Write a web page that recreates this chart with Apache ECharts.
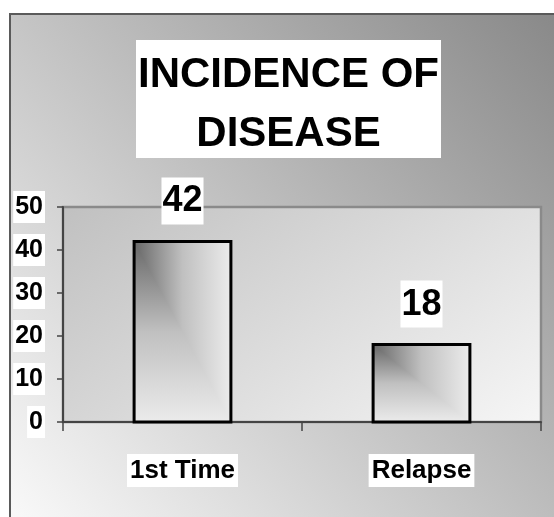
<!DOCTYPE html>
<html>
<head>
<meta charset="utf-8">
<script src="https://cdn.jsdelivr.net/npm/echarts@6/dist/echarts.min.js"></script>
<style>
  html, body { margin: 0; padding: 0; background: #ffffff; }
  #chart { width: 554px; height: 517px; }
</style>
</head>
<body>
<div id="chart"></div>
<script>
// Chart data
const titleLines = ['INCIDENCE OF', 'DISEASE'];
const categories = ['1st Time', 'Relapse'];
const incidence = [42, 18];
const yTicks = [0, 10, 20, 30, 40, 50];

const FONT = '"Liberation Sans", Arial, sans-serif';
const chart = echarts.init(document.getElementById('chart'), null, { renderer: 'canvas' });

// "From corner" shading: vertical ramp over the whole bar, horizontal ramp
// over the upper-right triangle, giving L-shaped contours from the top-left.
const stops = [
  { offset: 0, color: '#676767' },
  { offset: 0.5, color: '#c0c0c0' },
  { offset: 1, color: '#ebebeb' }
];

function renderBar(params, api) {
  const idx = api.value(0);
  const v = api.value(1);
  const top = api.coord([idx, v]);
  const base = api.coord([idx, 0]);
  const band = api.size([1, 0])[0];
  const w = band * 0.405;
  const l = top[0] - w / 2, r = l + w, t = top[1], b = base[1];
  return {
    type: 'group',
    children: [
      {
        type: 'rect',
        shape: { x: l, y: t, width: w, height: b - t },
        style: { fill: new echarts.graphic.LinearGradient(0, 0, 0, 1, stops) }
      },
      {
        type: 'polygon',
        shape: { points: [[l, t], [r, t], [r, b]] },
        style: { fill: new echarts.graphic.LinearGradient(0, 0, 1, 0, stops) }
      },
      {
        type: 'rect',
        shape: { x: l, y: t, width: w, height: b - t },
        style: { fill: null, stroke: '#000000', lineWidth: 3 }
      },
      {
        type: 'text',
        x: top[0],
        y: t - 17,
        style: {
          text: String(v),
          font: 'bold 36px ' + FONT,
          fill: '#000000',
          align: 'center',
          verticalAlign: 'bottom',
          backgroundColor: '#ffffff',
          padding: [6, 1, 5, 1]
        }
      }
    ]
  };
}

chart.setOption({
  animation: false,
  backgroundColor: '#ffffff',
  graphic: {
    elements: [
      {
        // slide panel with diagonal grey wash
        type: 'rect',
        z: -100,
        shape: { x: 10, y: 14, width: 570, height: 530 },
        style: {
          fill: new echarts.graphic.LinearGradient(0, 1, 1, 0, [
            { offset: 0, color: '#fcfcfc' },
            { offset: 1, color: '#868686' }
          ]),
          stroke: '#5a5a5a',
          lineWidth: 2
        }
      },
      {
        // title block
        type: 'rect',
        z: 10,
        shape: { x: 136, y: 40, width: 305, height: 118 },
        style: { fill: '#ffffff' }
      },
      {
        type: 'text',
        z: 11,
        x: 288.5,
        y: 75,
        style: {
          text: titleLines[0],
          font: 'bold 42px ' + FONT,
          fill: '#000000',
          align: 'center',
          verticalAlign: 'middle'
        }
      },
      {
        type: 'text',
        z: 11,
        x: 288.5,
        y: 134,
        style: {
          text: titleLines[1],
          font: 'bold 42px ' + FONT,
          fill: '#000000',
          align: 'center',
          verticalAlign: 'middle'
        }
      }
    ]
  },
  grid: {
    left: 63,
    right: 13,
    top: 207,
    bottom: 95,
    show: true,
    backgroundColor: new echarts.graphic.LinearGradient(0, 0, 0.54, 1.72, [
      { offset: 0, color: '#c0c0c0' },
      { offset: 1, color: '#f6f6f6' }
    ]),
    borderColor: '#8a8a8a',
    borderWidth: 2.5
  },
  xAxis: {
    type: 'category',
    data: categories,
    boundaryGap: true,
    axisLine: { lineStyle: { color: '#444444', width: 2 } },
    axisTick: { show: true, alignWithLabel: false, length: 9, lineStyle: { color: '#444444', width: 1.5 } },
    axisLabel: {
      margin: 32,
      fontFamily: FONT,
      fontWeight: 'bold',
      fontSize: 26,
      color: '#000000',
      backgroundColor: '#ffffff',
      padding: [4, 3, 3, 3]
    },
    splitLine: { show: false }
  },
  yAxis: {
    type: 'value',
    min: yTicks[0],
    max: yTicks[yTicks.length - 1],
    interval: 10,
    axisLine: { show: true, lineStyle: { color: '#444444', width: 2 } },
    axisTick: { show: true, length: 6, lineStyle: { color: '#444444', width: 1.5 } },
    axisLabel: {
      margin: 18,
      fontFamily: FONT,
      fontWeight: 'bold',
      fontSize: 25,
      color: '#000000',
      backgroundColor: '#ffffff',
      padding: [4, 2, 3, 2]
    },
    splitLine: { show: false }
  },
  series: [
    {
      type: 'custom',
      renderItem: renderBar,
      data: incidence.map((v, i) => [i, v]),
      encode: { x: 0, y: 1 },
      clip: false,
      z: 5
    }
  ]
});
</script>
</body>
</html>
